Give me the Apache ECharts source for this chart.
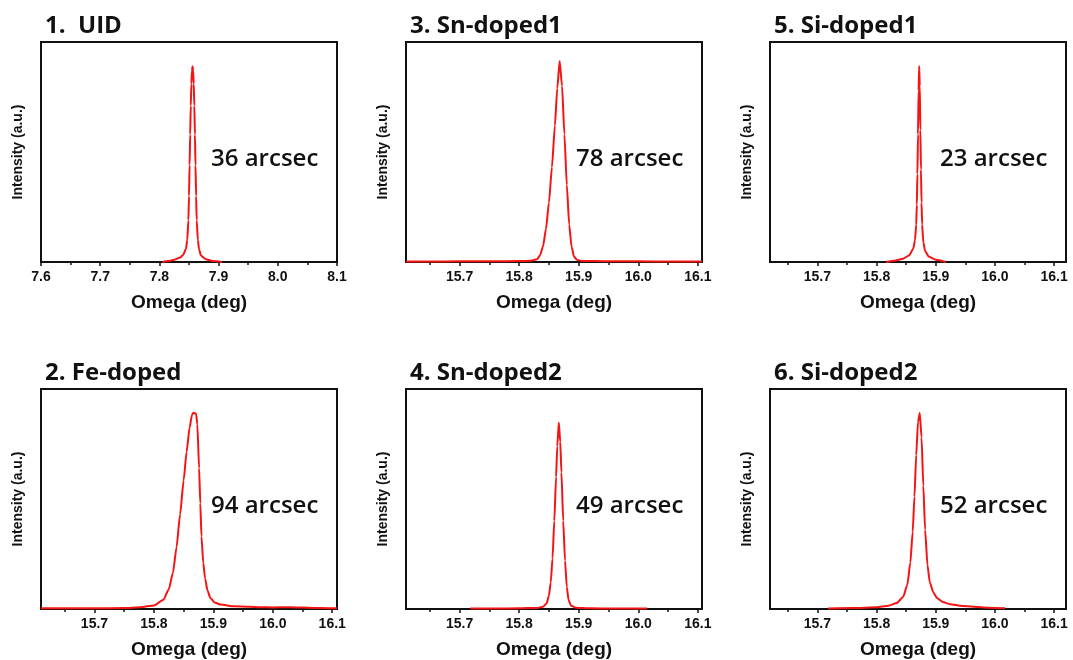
<!DOCTYPE html>
<html>
<head>
<meta charset="utf-8">
<title>XRC omega scans</title>
<script src="https://cdn.jsdelivr.net/npm/echarts@6/dist/echarts.min.js"></script>
<style>
  html, body { margin: 0; padding: 0; background: #fff; }
  #chart { width: 1073px; height: 660px; }
</style>
</head>
<body>
<div id="chart"></div>
<script>
// ---- Rocking-curve data (omega in deg, normalized intensity) ----
const uidOmega = [7.805, 7.815, 7.825, 7.835, 7.840, 7.845, 7.847, 7.849, 7.850, 7.851, 7.852, 7.853, 7.854, 7.855, 7.856, 7.857, 7.858, 7.859, 7.860, 7.861, 7.862, 7.863, 7.865, 7.867, 7.870, 7.878, 7.890, 7.906];
const uidIntensity = [0.000, 0.004, 0.010, 0.020, 0.032, 0.060, 0.100, 0.190, 0.300, 0.440, 0.580, 0.710, 0.810, 0.870, 0.890, 0.870, 0.810, 0.710, 0.580, 0.440, 0.300, 0.190, 0.100, 0.058, 0.030, 0.013, 0.005, 0.000];

const feOmega = [15.610, 15.650, 15.700, 15.750, 15.777, 15.800, 15.816, 15.825, 15.832, 15.838, 15.844, 15.850, 15.855, 15.860, 15.864, 15.866, 15.871, 15.873, 15.876, 15.878, 15.880, 15.883, 15.886, 15.890, 15.895, 15.902, 15.912, 15.935, 15.960, 15.980, 16.000, 16.020, 16.040, 16.060, 16.080, 16.108];
const feIntensity = [0.003, 0.003, 0.003, 0.004, 0.008, 0.016, 0.042, 0.090, 0.165, 0.280, 0.430, 0.585, 0.715, 0.825, 0.882, 0.892, 0.888, 0.840, 0.640, 0.480, 0.330, 0.210, 0.140, 0.085, 0.050, 0.030, 0.020, 0.012, 0.010, 0.008, 0.007, 0.008, 0.007, 0.006, 0.004, 0.003];

const sn1Omega = [15.610, 15.650, 15.700, 15.750, 15.800, 15.820, 15.830, 15.835, 15.840, 15.845, 15.850, 15.855, 15.860, 15.864, 15.868, 15.872, 15.876, 15.880, 15.884, 15.888, 15.892, 15.897, 15.905, 15.950, 16.000, 16.050, 16.107];
const sn1Intensity = [0.002, 0.002, 0.003, 0.003, 0.004, 0.006, 0.012, 0.030, 0.070, 0.150, 0.270, 0.430, 0.620, 0.790, 0.914, 0.800, 0.580, 0.350, 0.170, 0.070, 0.025, 0.010, 0.005, 0.003, 0.003, 0.002, 0.002];

const sn2Omega = [15.718, 15.760, 15.800, 15.830, 15.840, 15.846, 15.850, 15.853, 15.856, 15.859, 15.862, 15.864, 15.8666, 15.869, 15.871, 15.874, 15.877, 15.880, 15.883, 15.887, 15.895, 15.920, 15.960, 16.015];
const sn2Intensity = [0.002, 0.002, 0.003, 0.005, 0.010, 0.025, 0.060, 0.120, 0.230, 0.400, 0.600, 0.740, 0.848, 0.760, 0.620, 0.400, 0.220, 0.100, 0.040, 0.015, 0.006, 0.003, 0.002, 0.002];

const si1Omega = [15.816, 15.830, 15.845, 15.855, 15.862, 15.865, 15.867, 15.868, 15.869, 15.870, 15.871, 15.872, 15.873, 15.874, 15.875, 15.876, 15.877, 15.879, 15.882, 15.888, 15.900, 15.917];
const si1Intensity = [0.000, 0.006, 0.015, 0.030, 0.060, 0.100, 0.170, 0.260, 0.400, 0.580, 0.780, 0.891, 0.800, 0.600, 0.420, 0.270, 0.170, 0.090, 0.050, 0.025, 0.010, 0.000];

const si2Omega = [15.718, 15.760, 15.800, 15.820, 15.834, 15.845, 15.852, 15.857, 15.861, 15.864, 15.867, 15.870, 15.873, 15.876, 15.879, 15.882, 15.886, 15.890, 15.896, 15.902, 15.912, 15.924, 15.945, 15.963, 15.990, 16.017];
const si2Intensity = [0.002, 0.004, 0.008, 0.015, 0.027, 0.055, 0.110, 0.210, 0.350, 0.510, 0.700, 0.850, 0.891, 0.780, 0.560, 0.360, 0.200, 0.120, 0.075, 0.050, 0.032, 0.022, 0.014, 0.010, 0.006, 0.003];

// ---- Axis ticks and ranges ----
const ticksUID = [7.6, 7.7, 7.8, 7.9, 8.0, 8.1];
const minorUID = [7.65, 7.75, 7.85, 7.95, 8.05];
const ticksGaO = [15.7, 15.8, 15.9, 16.0, 16.1];
const minorGaO = [15.65, 15.75, 15.85, 15.95, 16.05];
const rangeUID = [7.6, 8.1];
const rangeFe = [15.61, 16.108];
const rangeSn = [15.61, 16.107];
const rangeSi = [15.62, 16.12];

// ---- Panel labels and widths ----
const panelTitles = ['1.  UID', '2. Fe-doped', '3. Sn-doped1', '4. Sn-doped2', '5. Si-doped1', '6. Si-doped2'];
const fwhmLabels = ['36 arcsec', '94 arcsec', '78 arcsec', '49 arcsec', '23 arcsec', '52 arcsec'];

const panels = [
  { x: uidOmega, y: uidIntensity, range: rangeUID, ticks: ticksUID, minor: minorUID },
  { x: feOmega,  y: feIntensity,  range: rangeFe,  ticks: ticksGaO, minor: minorGaO },
  { x: sn1Omega, y: sn1Intensity, range: rangeSn,  ticks: ticksGaO, minor: minorGaO },
  { x: sn2Omega, y: sn2Intensity, range: rangeSn,  ticks: ticksGaO, minor: minorGaO },
  { x: si1Omega, y: si1Intensity, range: rangeSi,  ticks: ticksGaO, minor: minorGaO },
  { x: si2Omega, y: si2Intensity, range: rangeSi,  ticks: ticksGaO, minor: minorGaO }
];

// layout: three columns, two rows; panels numbered down each column
const colLeft = [41, 406, 770];
const rowTop = [42, 389];
const plotW = 296, plotH = 220;

const grids = [], xAxes = [], yAxes = [], series = [], titles = [];
const axisFont = '"Liberation Sans", Arial, sans-serif';
const textFont = '"Open Sans", "Noto Sans", sans-serif';

panels.forEach((p, i) => {
  const col = Math.floor(i / 2), row = i % 2;
  const left = colLeft[col], top = rowTop[row];
  grids.push({
    left: left, top: top, width: plotW, height: plotH,
    show: true, borderColor: '#111', borderWidth: 2, backgroundColor: 'transparent'
  });
  // main x axis: labels + major ticks
  xAxes.push({
    type: 'value', gridIndex: i, min: p.range[0], max: p.range[1],
    name: 'Omega (deg)', nameLocation: 'middle', nameGap: 31,
    nameTextStyle: { fontFamily: axisFont, fontWeight: 'bold', fontSize: 19, color: '#111' },
    axisLine: { show: true, onZero: false, lineStyle: { color: '#111', width: 2 } },
    axisTick: { show: true, inside: false, length: 4, lineStyle: { color: '#111', width: 1.5 }, customValues: p.ticks },
    axisLabel: {
      show: true, margin: 8, customValues: p.ticks, showMinLabel: true, showMaxLabel: true,
      fontFamily: axisFont, fontWeight: 'bold', fontSize: 14, color: '#111',
      formatter: v => Number(v).toFixed(1)
    },
    splitLine: { show: false }
  });
  // overlay axis carrying the minor ticks
  xAxes.push({
    type: 'value', gridIndex: i, min: p.range[0], max: p.range[1], position: 'bottom',
    axisLine: { show: false },
    axisTick: { show: true, inside: false, length: 3, lineStyle: { color: '#111', width: 1.5 }, customValues: p.minor },
    axisLabel: { show: false, customValues: p.minor },
    splitLine: { show: false }
  });
  yAxes.push({
    type: 'value', gridIndex: i, min: 0, max: 1,
    name: 'Intensity (a.u.)', nameLocation: 'middle', nameGap: 16, nameRotate: 90,
    nameTextStyle: { fontFamily: axisFont, fontWeight: 'bold', fontSize: 14, color: '#111' },
    axisLine: { show: true, onZero: false, lineStyle: { color: '#111', width: 2 } },
    axisTick: { show: false }, axisLabel: { show: false }, splitLine: { show: false }
  });
  series.push({
    type: 'line', xAxisIndex: 2 * i, yAxisIndex: i,
    data: p.x.map((xv, k) => [xv, p.y[k]]),
    showSymbol: false, smooth: 0.2, smoothMonotone: 'x',
    lineStyle: { color: '#f51414', width: 2 }, z: 3, silent: true
  });
  titles.push({
    text: panelTitles[i], left: left + 4, top: top - 28, padding: 0,
    textStyle: { fontFamily: textFont, fontWeight: 'bold', fontSize: 24, color: '#111' }
  });
  titles.push({
    text: fwhmLabels[i], left: left + 170, top: top + 105, padding: 0,
    textStyle: { fontFamily: textFont, fontWeight: 600, fontSize: 24, color: '#111' }
  });
});

const chart = echarts.init(document.getElementById('chart'), null, { renderer: 'canvas' });
chart.setOption({
  animation: false,
  backgroundColor: '#fff',
  title: titles,
  grid: grids,
  xAxis: xAxes,
  yAxis: yAxes,
  series: series
});
</script>
</body>
</html>
